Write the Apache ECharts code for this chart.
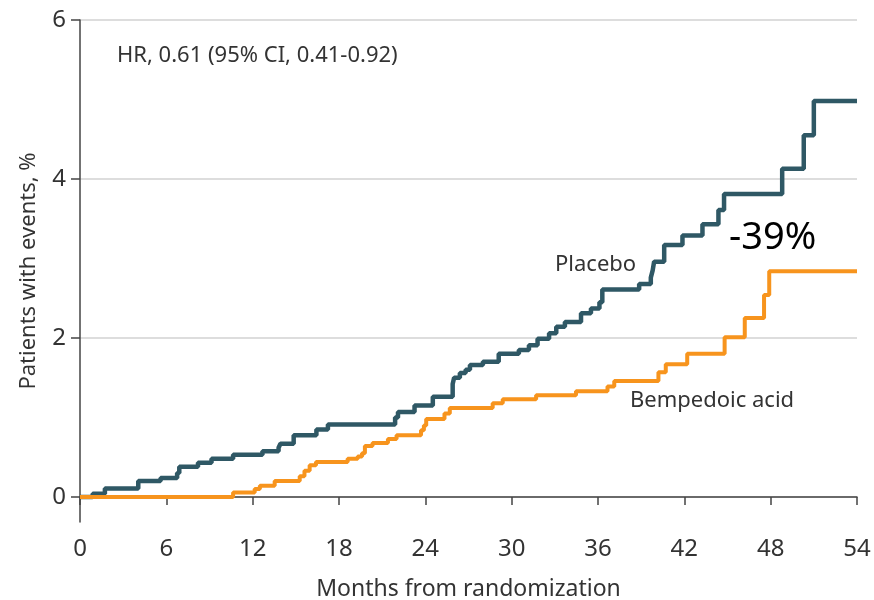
<!DOCTYPE html>
<html>
<head>
<meta charset="utf-8">
<script src="https://cdn.jsdelivr.net/npm/echarts@6/dist/echarts.min.js"></script>
<style>
  html, body { margin: 0; padding: 0; background: #fff; }
  #chart { width: 874px; height: 600px; }
</style>
</head>
<body>
<div id="chart"></div>
<script>
// month of each event and cumulative % of patients with events after it
const placeboMonths = [0, 0.88, 1.73, 4.05, 5.6, 6.75, 6.9, 8.2, 9.14, 10.64, 12.68, 13.8, 13.93, 14.85,
  16.43, 17.23, 21.9, 22.1, 23.25, 24.52, 25.9, 26.0, 26.4, 26.8, 27.1, 28.0, 29.1, 30.5, 31.2, 31.8,
  32.6, 33.1, 33.7, 34.82, 35.51, 36.1, 36.3, 38.86, 39.67, 39.8, 39.9, 40.6, 41.87, 43.26, 44.37,
  44.76, 48.8, 50.3, 51.0, 54];
const placeboPct = [0, 0.04, 0.105, 0.2, 0.24, 0.3, 0.38, 0.43, 0.48, 0.53, 0.575, 0.62, 0.67, 0.776,
  0.85, 0.91, 1.0, 1.07, 1.15, 1.26, 1.42, 1.5, 1.56, 1.6, 1.66, 1.7, 1.8, 1.85, 1.91, 1.99,
  2.06, 2.14, 2.2, 2.31, 2.37, 2.45, 2.61, 2.68, 2.76, 2.85, 2.96, 3.17, 3.29, 3.43, 3.61,
  3.81, 4.13, 4.55, 4.98, 4.98];

const bempMonths = [0, 10.64, 12.14, 12.5, 13.53, 15.27, 15.6, 15.96, 16.4, 18.6, 19.3, 19.6, 19.8,
  20.33, 21.4, 22.0, 23.7, 23.9, 24.06, 25.33, 25.7, 28.68, 29.38, 31.7, 34.47, 36.66, 37.13,
  40.2, 40.71, 42.2, 44.8, 46.2, 47.54, 47.9, 54];
const bempPct = [0, 0.055, 0.1, 0.14, 0.2, 0.26, 0.33, 0.4, 0.44, 0.48, 0.51, 0.55, 0.64,
  0.68, 0.73, 0.776, 0.84, 0.9, 0.98, 1.05, 1.12, 1.18, 1.23, 1.28, 1.33, 1.39, 1.46,
  1.57, 1.67, 1.8, 2.01, 2.25, 2.54, 2.84, 2.84];

const yTicks = [0, 2, 4, 6];

const zip = (xs, ys) => xs.map((x, i) => [x, ys[i]]);

const textFont = "'Noto Sans', 'Open Sans', sans-serif";

const chart = echarts.init(document.getElementById('chart'));
chart.setOption({
  animation: false,
  grid: { left: 80, right: 17, top: 20, bottom: 78, outerBoundsMode: 'none', containLabel: false },
  xAxis: {
    type: 'value',
    min: 0,
    max: 54,
    interval: 6,
    name: 'Months from randomization',
    nameLocation: 'middle',
    nameGap: 56,
    nameTextStyle: { fontSize: 23, color: '#333', fontFamily: textFont },
    axisLine: { lineStyle: { color: '#444', width: 1.5 } },
    axisTick: { inside: false, length: 8, lineStyle: { color: '#444', width: 1.5 } },
    axisLabel: { fontSize: 24, color: '#333', margin: 15, fontFamily: textFont },
    splitLine: { show: false }
  },
  yAxis: {
    type: 'value',
    min: -0.315,
    max: 6,
    name: 'Patients with events, %',
    nameLocation: 'middle',
    nameGap: 40,
    nameTextStyle: { fontSize: 22, color: '#333', fontFamily: textFont },
    axisLine: { show: true, lineStyle: { color: '#444', width: 1.5 } },
    axisTick: { show: true, inside: false, length: 9, customValues: yTicks, lineStyle: { color: '#444', width: 1.5 } },
    axisLabel: { fontSize: 24, color: '#333', margin: 14, fontFamily: textFont, customValues: yTicks },
    splitLine: { show: true, lineStyle: { color: '#dddddd', width: 2 } }
  },
  graphic: [
    { type: 'text', left: 117, top: 45, style: { text: 'HR, 0.61 (95% CI, 0.41-0.92)', fontSize: 22, fontFamily: textFont, fill: '#333' } },
    { type: 'text', left: 555, top: 254, style: { text: 'Placebo', fontSize: 22, fontFamily: textFont, fill: '#333' } },
    { type: 'text', left: 630, top: 390, style: { text: 'Bempedoic acid', fontSize: 22, fontFamily: textFont, fill: '#333' } },
    { type: 'text', left: 729, top: 219, style: { text: '-39%', fontSize: 38, fontFamily: textFont, fill: '#000' } }
  ],
  series: [
    {
      name: 'Placebo',
      type: 'line',
      step: 'end',
      symbol: 'none',
      data: zip(placeboMonths, placeboPct),
      lineStyle: { color: '#2f5865', width: 4.5 }
    },
    {
      name: 'Bempedoic acid',
      type: 'line',
      step: 'end',
      symbol: 'none',
      data: zip(bempMonths, bempPct),
      lineStyle: { color: '#f7941d', width: 4 }
    }
  ]
});
</script>
</body>
</html>
